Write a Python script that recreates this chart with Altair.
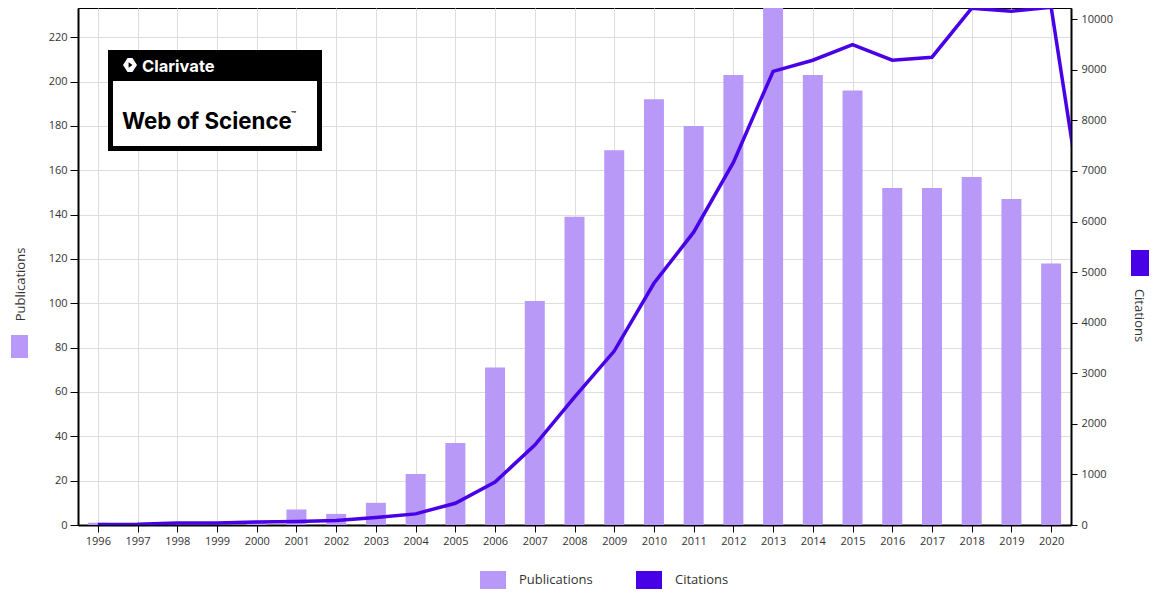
import altair as alt
import pandas as pd

# ---- data ----
years = list(range(1996, 2021))
publications = [1, 0, 0, 0, 1, 7, 5, 10, 23, 37, 71, 101, 139, 169, 192, 180,
                203, 245, 203, 196, 152, 152, 157, 147, 118]
cit_years = list(range(1996, 2022))
citations = [10, 15, 40, 40, 60, 70, 90, 150, 220, 430, 850, 1580, 2530, 3440,
             4780, 5790, 7170, 8970, 9190, 9500, 9190, 9250, 10220, 10160,
             10240, 5150]
series_names = ["Publications", "Citations"]
pub_ticks = list(range(0, 221, 20))
cit_ticks = list(range(0, 10001, 1000))

pub_color = "#b899f8"
cit_color = "#4800e6"
FONT = "Open Sans"

pub_df = pd.DataFrame({"year": years, "publications": publications,
                       "series": ["Publications"] * len(years)})
cit_df = pd.DataFrame({"year": cit_years, "citations": citations})
one = pd.DataFrame({"a": [0]})

xscale = alt.Scale(domain=[1995.5, 2020.5], nice=False, zero=False, padding=0)
xaxis = alt.Axis(values=years, format="d", title=None, grid=True,
                 gridColor="#dddddd", domainColor="#000", domainWidth=2,
                 tickColor="#000", tickSize=7, labelFontSize=11,
                 labelColor="#333", labelPadding=3, labelFlush=False,
                 labelOverlap=False, labelFont=FONT)

bars = alt.Chart(pub_df).mark_bar(size=20, clip=True).encode(
    x=alt.X("year:Q", scale=xscale, axis=xaxis),
    y=alt.Y("publications:Q", scale=alt.Scale(domain=[0, 233.2], nice=False),
            axis=alt.Axis(values=pub_ticks, title="Publications", grid=True,
                          gridColor="#dddddd", domainColor="#000", domainWidth=2,
                          tickColor="#000", tickSize=8, labelFontSize=11,
                          labelColor="#333", labelPadding=3, labelFont=FONT,
                          titleX=-58, titleY=276, titleAngle=270,
                          titleAlign="center", titleBaseline="middle",
                          titleFontSize=13, titleFontWeight="normal",
                          titleColor="#333", titleFont=FONT)),
    color=alt.Color("series:N",
                    scale=alt.Scale(domain=series_names, range=[pub_color, cit_color]),
                    legend=alt.Legend(orient="none", legendX=406, legendY=563,
                                      direction="horizontal", title=None,
                                      symbolType="M-1.444,-1H1.444V1H-1.444Z",
                                      symbolSize=324, symbolStrokeWidth=0,
                                      symbolOpacity=1, labelFontSize=13,
                                      labelColor="#333", labelFont=FONT,
                                      labelOffset=17, columnPadding=43,
                                      padding=0)),
)

line = alt.Chart(cit_df).mark_line(clip=True, strokeWidth=3.5, color=cit_color).encode(
    x=alt.X("year:Q", scale=xscale, axis=xaxis),
    y=alt.Y("citations:Q", scale=alt.Scale(domain=[0, 10223], nice=False),
            axis=alt.Axis(orient="right", values=cit_ticks, format="d",
                          title="Citations",
                          grid=False, domainColor="#000", domainWidth=2,
                          tickColor="#000", tickSize=6, labelFontSize=11,
                          labelColor="#333", labelPadding=4, labelFont=FONT,
                          titleX=67, titleY=307, titleAngle=90,
                          titleAlign="center", titleBaseline="middle",
                          titleFontSize=13, titleFontWeight="normal",
                          titleColor="#333", titleFont=FONT)),
)

# side swatches next to axis titles
left_sw = alt.Chart(one).mark_rect(color=pub_color).encode(
    x=alt.value(-67), x2=alt.value(-50), y=alt.value(327), y2=alt.value(350))
right_sw = alt.Chart(one).mark_rect(color=cit_color).encode(
    x=alt.value(1053), x2=alt.value(1071), y=alt.value(242), y2=alt.value(268))

# Web of Science logo
logo_outer = alt.Chart(one).mark_rect(color="#000").encode(
    x=alt.value(30), x2=alt.value(244), y=alt.value(42), y2=alt.value(143))
logo_inner = alt.Chart(one).mark_rect(color="#fff").encode(
    x=alt.value(35), x2=alt.value(239), y=alt.value(73), y2=alt.value(138))
icon = alt.Chart(one).mark_point(
    shape="M-0.35,-1L0.35,-1L1,0L0.35,1L-0.35,1L-1,0Z M-0.2,-0.4L-0.2,0.4L0.35,0Z",
    filled=True, color="#fff", opacity=1, size=196).encode(
    x=alt.value(52), y=alt.value(57))
clar = alt.Chart(one).mark_text(text="Clarivate", font="Inter", fontSize=16.5,
                                fontWeight="bold", color="#fff", align="left",
                                baseline="alphabetic").encode(
    x=alt.value(64), y=alt.value(64))
wos = alt.Chart(one).mark_text(text="Web of Science", font="Inter", fontSize=22.3,
                               fontWeight="bold", color="#000", align="left",
                               baseline="alphabetic").encode(
    x=alt.value(44), y=alt.value(121))
tm = alt.Chart(one).mark_text(text="™", font="Inter", fontSize=8,
                              fontWeight="bold", color="#000", align="left",
                              baseline="alphabetic").encode(
    x=alt.value(213), y=alt.value(109))

chart = alt.layer(bars, line, left_sw, right_sw, logo_outer, logo_inner, icon,
                  clar, wos, tm).resolve_scale(y="independent").properties(
    width=993, height=517,
    padding={"left": 70, "top": 0, "right": 80, "bottom": 74},
    autosize="none",
).configure_view(stroke="#000", strokeWidth=1)

chart.save("out.html", embed_options={"renderer": "svg", "actions": False})
